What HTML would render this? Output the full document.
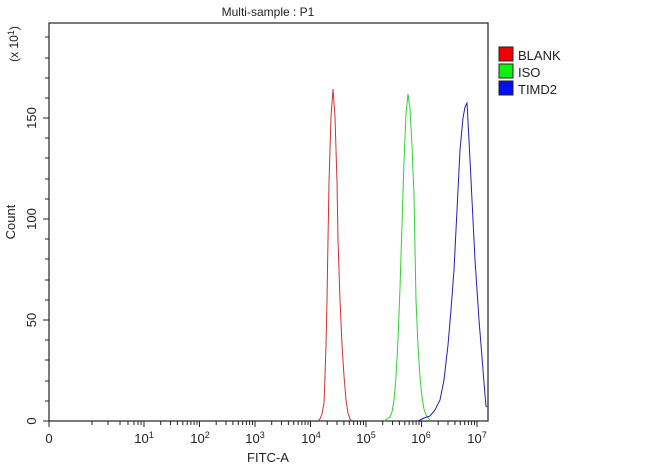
<!DOCTYPE html>
<html><head><meta charset="utf-8"><style>
html,body{margin:0;padding:0;background:#fff;width:650px;height:467px;overflow:hidden}
text{font-family:"Liberation Sans",Arial,sans-serif;fill:#222}
</style></head><body>
<svg width="650" height="467" viewBox="0 0 650 467" xmlns="http://www.w3.org/2000/svg">
<text x="268" y="16" font-size="12" text-anchor="middle">Multi-sample : P1</text>
<rect x="49" y="23" width="439" height="398" fill="none" stroke="#222" stroke-width="1.2"/>
<g stroke="#222" stroke-width="1">
<line x1="43" y1="421" x2="49" y2="421"/><line x1="43" y1="320" x2="49" y2="320"/>
<line x1="43" y1="219" x2="49" y2="219"/><line x1="43" y1="118" x2="49" y2="118"/>
<line x1="45" y1="401" x2="49" y2="401"/><line x1="45" y1="381" x2="49" y2="381"/><line x1="45" y1="360" x2="49" y2="360"/><line x1="45" y1="340" x2="49" y2="340"/>
<line x1="45" y1="300" x2="49" y2="300"/><line x1="45" y1="280" x2="49" y2="280"/><line x1="45" y1="259" x2="49" y2="259"/><line x1="45" y1="239" x2="49" y2="239"/>
<line x1="45" y1="199" x2="49" y2="199"/><line x1="45" y1="179" x2="49" y2="179"/><line x1="45" y1="158" x2="49" y2="158"/><line x1="45" y1="138" x2="49" y2="138"/>
<line x1="45" y1="98" x2="49" y2="98"/><line x1="45" y1="78" x2="49" y2="78"/><line x1="45" y1="58" x2="49" y2="58"/><line x1="45" y1="37" x2="49" y2="37"/>
</g>
<g font-size="13" text-anchor="middle">
<text transform="translate(36,421) rotate(-90)">0</text>
<text transform="translate(36,320) rotate(-90)">50</text>
<text transform="translate(36,219) rotate(-90)">100</text>
<text transform="translate(36,118) rotate(-90)">150</text>
<text transform="translate(15,222) rotate(-90)">Count</text>
<text transform="translate(18,44) rotate(-90)" font-size="12">(x 10<tspan dy="-4" font-size="9">1</tspan><tspan dy="4">)</tspan></text>
</g>
<path stroke="#222" stroke-width="1" fill="none" d="
M49,421v6 M144,421v6 M199.5,421v6 M255,421v6 M310.5,421v6 M366,421v6 M421.5,421v6 M477,421v6
M92,421v4 M108,421v4 M120,421v4 M128,421v4 M134,421v4 M138,421v4 M141,421v4
M160.7,421v4 M170.5,421v4 M177.4,421v4 M182.8,421v4 M187.2,421v4 M190.9,421v4 M194.1,421v4 M197,421v4
M216.2,421v4 M226,421v4 M232.9,421v4 M238.3,421v4 M242.7,421v4 M246.4,421v4 M249.6,421v4 M252.5,421v4
M271.7,421v4 M281.5,421v4 M288.4,421v4 M293.8,421v4 M298.2,421v4 M301.9,421v4 M305.1,421v4 M308,421v4
M327.2,421v4 M337,421v4 M343.9,421v4 M349.3,421v4 M353.7,421v4 M357.4,421v4 M360.6,421v4 M363.5,421v4
M382.7,421v4 M392.5,421v4 M399.4,421v4 M404.8,421v4 M409.2,421v4 M412.9,421v4 M416.1,421v4 M419,421v4
M438.2,421v4 M448,421v4 M454.9,421v4 M460.3,421v4 M464.7,421v4 M468.4,421v4 M471.6,421v4 M474.5,421v4"/>
<g font-size="13" text-anchor="middle">
<text x="49" y="443">0</text>
<text x="144" y="443">10<tspan dy="-5" font-size="9">1</tspan></text>
<text x="200" y="443">10<tspan dy="-5" font-size="9">2</tspan></text>
<text x="255" y="443">10<tspan dy="-5" font-size="9">3</tspan></text>
<text x="311" y="443">10<tspan dy="-5" font-size="9">4</tspan></text>
<text x="366" y="443">10<tspan dy="-5" font-size="9">5</tspan></text>
<text x="421" y="443">10<tspan dy="-5" font-size="9">6</tspan></text>
<text x="477" y="443">10<tspan dy="-5" font-size="9">7</tspan></text>
<text x="268" y="462">FITC-A</text>
</g>
<path d="M318,421 L320,419 L322,414 L324,403 L325,376 L326,345 L327,300 L328,240 L329,182 L331,117 L333,89 L335,117 L337,182 L338,240 L340,300 L342,345 L344,376 L346,400 L348,413 L350,419 L352,421" fill="none" stroke="#d03030" stroke-width="1"/>
<path d="M384,421 L390,417 L392,412 L394,400 L396,377 L398,340 L400,288 L402,224 L404,161 L406,114 L408,94 L410,109 L412,145 L414,196 L415,250 L416,300 L418,346 L420,377 L422,397 L424,409 L426,415 L430,420" fill="none" stroke="#30d030" stroke-width="1"/>
<path d="M418,421 L424,418 L430,416 L435,410 L440,400 L444,380 L448,345 L451,310 L454,270 L457,210 L460,150 L463,118 L465,107 L467,103 L469,140 L471,180 L473,220 L475,260 L477,290 L479,320 L481,345 L483,370 L485,395 L486,406 L487,407" fill="none" stroke="#2020b0" stroke-width="1"/>
<g font-size="13">
<rect x="499" y="47" width="14" height="14" fill="#f00000" stroke="#222"/><text x="518" y="60">BLANK</text>
<rect x="499" y="64" width="14" height="14" fill="#10f010" stroke="#222"/><text x="518" y="77">ISO</text>
<rect x="499" y="81" width="14" height="14" fill="#0010f0" stroke="#222"/><text x="518" y="94">TIMD2</text>
</g>
</svg>
</body></html>
